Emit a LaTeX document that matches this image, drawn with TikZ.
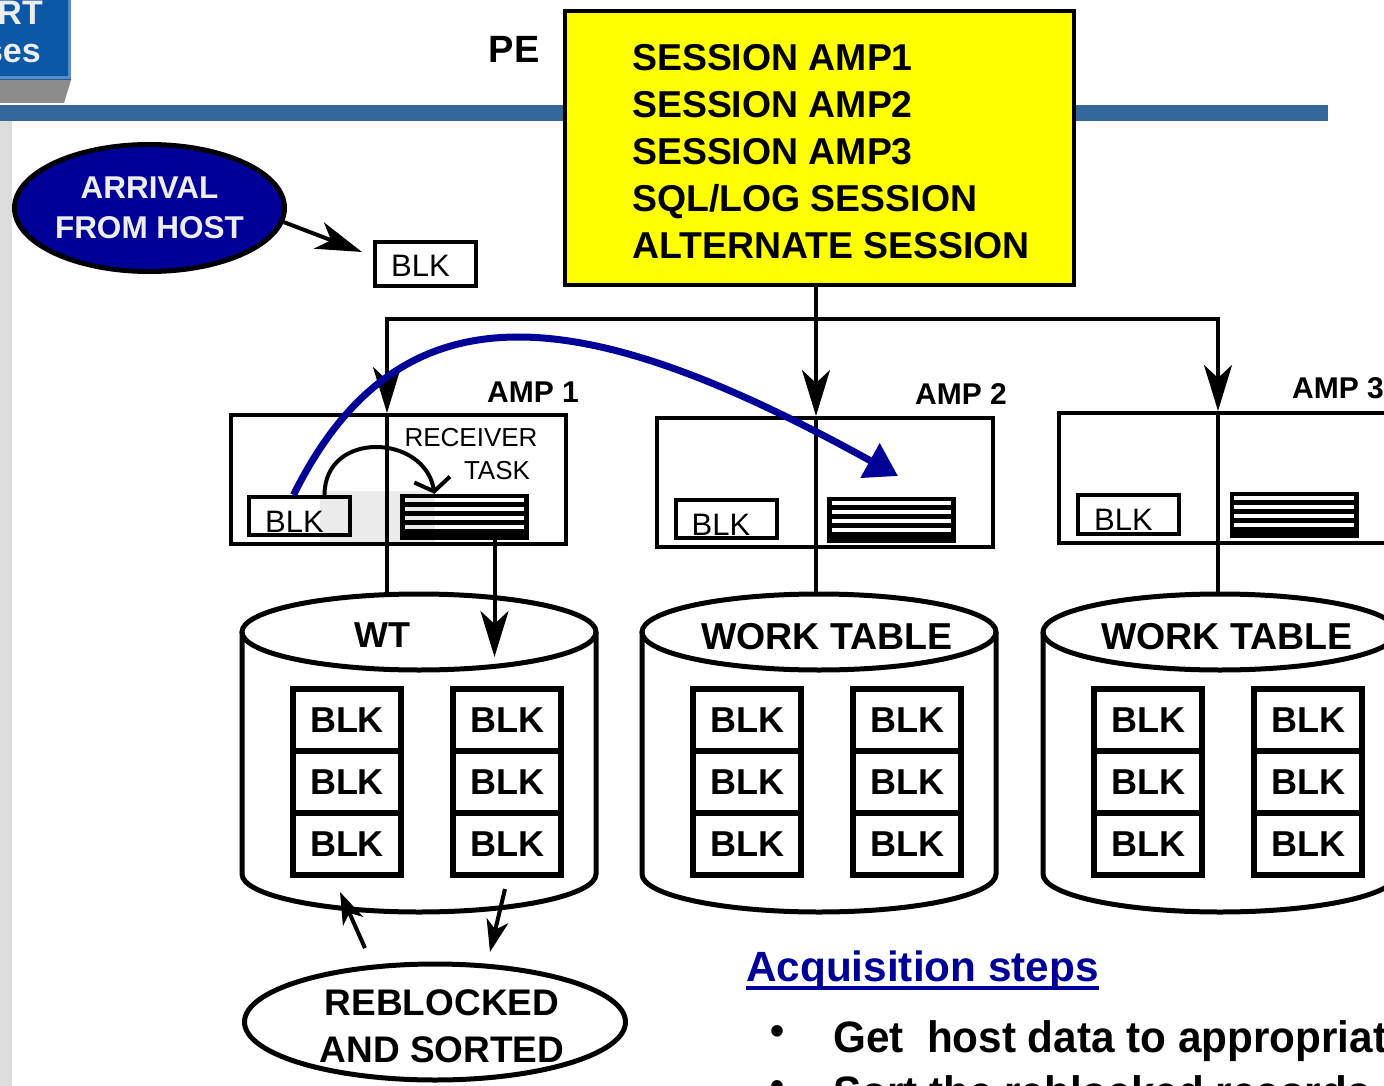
\documentclass[tikz,border=0pt]{standalone}
\usepackage{fontspec}
\setmainfont{Liberation Sans}
\newfontfamily\narrowsans[FakeStretch=0.96]{Liberation Sans}
\usetikzlibrary{arrows.meta,shapes.geometric}
\definecolor{hostblue}{HTML}{000099}
\definecolor{barblue}{HTML}{336699}
\definecolor{tabblue}{HTML}{0A58A6}
\definecolor{tabedge}{HTML}{5B8CC8}
\definecolor{shadegray}{HTML}{8C8C8C}
\definecolor{stripgray}{HTML}{DCDCDC}
\definecolor{peyellow}{HTML}{FFFF00}
\newcommand{\pxfont}[2]{\fontsize{#1}{#2}\selectfont}

\begin{document}
\begin{tikzpicture}[x=1pt,y=-1pt,
  conn/.style={line width=4pt},
  headarrow/.style={-{Stealth[length=46pt,width=28pt,inset=13pt]}},
  smallhead/.style={-{Stealth[length=32pt,width=22pt,inset=9pt]}},
  blkbox/.style={draw,line width=4pt,minimum width=101pt,minimum height=38pt,inner sep=0pt,
    text height=32pt,execute at end node={\kern10pt},font=\pxfont{31}{31}},
  gridblk/.style={draw,line width=6pt,minimum width=108pt,minimum height=62pt,inner sep=0pt,font=\bfseries\pxfont{36}{36}},
  ampbox/.style={draw,line width=4pt,inner sep=0pt},
  linedbox/.style={fill=black,minimum width=129pt,minimum height=46pt,inner sep=0pt},
  cylline/.style={line width=5pt},
  bold/.style={font=\bfseries\pxfont{#1}{#1},inner sep=0pt}]
\useasboundingbox (0,0) rectangle (1384,1086);
\clip (0,0) rectangle (1384,1086);
\fill[white] (0,0) rectangle (1384,1086);

% slide frame
\fill[tabblue] (-5,-5) rectangle (71,80);
\draw[tabedge,line width=3pt] (-5,78) -- (69.5,78) -- (69.5,-5);
\fill[shadegray] (0,80) -- (71,80) -- (64,103) -- (0,103) -- cycle;
\fill[barblue] (0,105) rectangle (1328,121);
\fill[stripgray] (0,121) rectangle (12,1086);
\node[anchor=base east,text=white!93!black,bold=34] (tabtop) at (43,25) {RT};
\node[anchor=base east,text=white!93!black,bold=34] (tabbot) at (41,63) {ses};

% PE
\node[draw,line width=4pt,fill=peyellow,minimum width=509pt,minimum height=274pt,inner sep=0pt] (pebox) at (819.5,148) {};
\node[anchor=west,align=left,inner sep=0pt,font=\bfseries\pxfont{37.4}{47}] (sessions) at (632,152)
  {SESSION AMP1\\SESSION AMP2\\SESSION AMP3\\SQL/LOG SESSION\\ALTERNATE SESSION};
\node[bold=38] (pe) at (514,49) {PE};

% host
\node[ellipse,draw,line width=5pt,fill=hostblue,text=white!93!black,minimum width=270pt,minimum height=127pt,
  inner sep=0pt,align=center,font=\bfseries\pxfont{31.5}{40}] (arrival) at (149.5,208) {ARRIVAL\\FROM HOST};
\node[blkbox,minimum height=44pt,text height=25pt] (blk0) at (425.5,264) {BLK};
\coordinate (blkin) at (362,252);
\draw[conn,headarrow] (arrival.-6) -- (blkin);

% AMPs
\node[ampbox,minimum width=335pt,minimum height=129pt] (amp1) at (398.5,479.5) {};
\node[ampbox,minimum width=336pt,minimum height=129pt] (amp2) at (825,482.5) {};
\node[ampbox,minimum width=339pt,minimum height=130pt] (amp3) at (1228.5,478) {};
\node[bold=30] (amp1lbl) at (533,392) {AMP 1};
\node[bold=30] (amp2lbl) at (961,394) {AMP 2};
\node[bold=30] (amp3lbl) at (1338,388) {AMP 3};

\coordinate (bus1) at (387,319);
\coordinate (bus2) at (816,319);
\coordinate (bus3) at (1218,319);

% work tables
\foreach \i/\xc in {1/419,2/819,3/1220} {
  \draw[cylline] (\xc-177,632) -- (\xc-177,874) arc[start angle=180,end angle=0,x radius=177,y radius=38] -- (\xc+177,632);
  \draw[cylline] (\xc,632) ellipse[x radius=177,y radius=38];
  \coordinate (cyl\i) at (\xc,594);
  \foreach \r/\yy in {1/720,2/782,3/844} {
    \node[gridblk] (g\i-l\r) at (\xc-72,\yy) {BLK};
    \node[gridblk] (g\i-r\r) at (\xc+88,\yy) {BLK};
  }
}
\node[bold=36] (wt1) at (382,635) {WT};
\node[bold=37.5] (wt2) at (827,637) {WORK TABLE};
\node[bold=37.5] (wt3) at (1227,637) {WORK TABLE};

\draw[conn,headarrow] (bus2) -- (bus1) -- (bus1 |- amp1.north);
\draw[conn,headarrow] (bus2) -- (bus3) -- (bus3 |- amp3.north);
\draw[conn,headarrow] (pebox.south -| bus2) -- (bus2 |- amp2.north);
\draw[conn] (bus1 |- amp1.north) -- (bus1 |- cyl1);
\draw[conn] (bus2 |- amp2.north) -- (bus2 |- cyl2);
\draw[conn] (bus3 |- amp3.north) -- (bus3 |- cyl3);

\node[blkbox] (blk1) at (299.5,516) {BLK};
\node[blkbox] (blk2) at (726,519) {BLK};
\node[blkbox,minimum height=39pt] (blk3) at (1128.5,514.5) {BLK};
\node[linedbox] (lines1) at (464.5,517) {};
\node[linedbox] (lines2) at (891.5,520) {};
\node[linedbox] (lines3) at (1294,515) {};
\foreach \n in {lines1,lines2,lines3}
  \foreach \k in {6,15,24,33}
    \draw[white,line width=3.5pt] ([xshift=5pt,yshift=-\k pt]\n.north west) -- ([xshift=-5pt,yshift=-\k pt]\n.north east);
\fill[black,opacity=0.08] (320,491) rectangle (435,544);

% receiver task
\node[inner sep=0pt,font=\pxfont{26}{26}] (recv) at (471,438) {RECEIVER};
\node[inner sep=0pt,font=\pxfont{26}{26}] (task) at (497,471) {TASK};
\draw[conn,-{Straight Barb[length=12pt,width=36pt]}] ([xshift=25pt]blk1.north) .. controls +(0,-65) and +(-10,-60) .. ([xshift=-30pt]lines1.north);
\coordinate (wtdrop) at (494.5,657);
\draw[conn,headarrow] ([xshift=30pt]lines1.south) -- (wtdrop);

% reblocking
\node[ellipse,draw,line width=5pt,minimum width=381pt,minimum height=116pt,inner sep=0pt] (reblk) at (435,1022) {};
\node[align=center,inner sep=0pt,font=\bfseries\pxfont{37}{47}] (reblktxt) at (442,1026.5) {REBLOCKED\\AND SORTED};
\coordinate (wtin) at (340,892);
\coordinate (wtout) at (505,889);
\coordinate (rbout) at (365,948);
\coordinate (rbin) at (490,952);
\draw[conn,smallhead] (rbout) -- (wtin);
\draw[conn,smallhead] (wtout) -- (rbin);

% steps
\node[anchor=base west,text=hostblue,bold=42.3] (acq) at (746,981) {Acquisition steps};
\draw[hostblue,line width=4pt] ([yshift=-7pt]acq.base west) -- ([yshift=-7pt]acq.base east);
\node[bold=40] (bul1) at (777,1035) {•};
\node[bold=40] (bul2) at (777,1090) {•};
\node[anchor=base west,font=\bfseries\narrowsans\pxfont{44}{44},inner sep=0pt] (step1) at (833,1052) {Get~ host data to appropriate AMPs};
\node[anchor=base west,font=\bfseries\narrowsans\pxfont{44}{44},inner sep=0pt] (step2) at (833,1107) {Sort the reblocked records};

% block sent to AMP 2
\coordinate (amp2in) at (898,476);
\draw[hostblue,line width=7pt,-{Triangle[length=32pt,width=38pt]}] ([xshift=-6pt]blk1.north) .. controls (400,280) and (580,300) .. (amp2in);
\end{tikzpicture}
\end{document}
